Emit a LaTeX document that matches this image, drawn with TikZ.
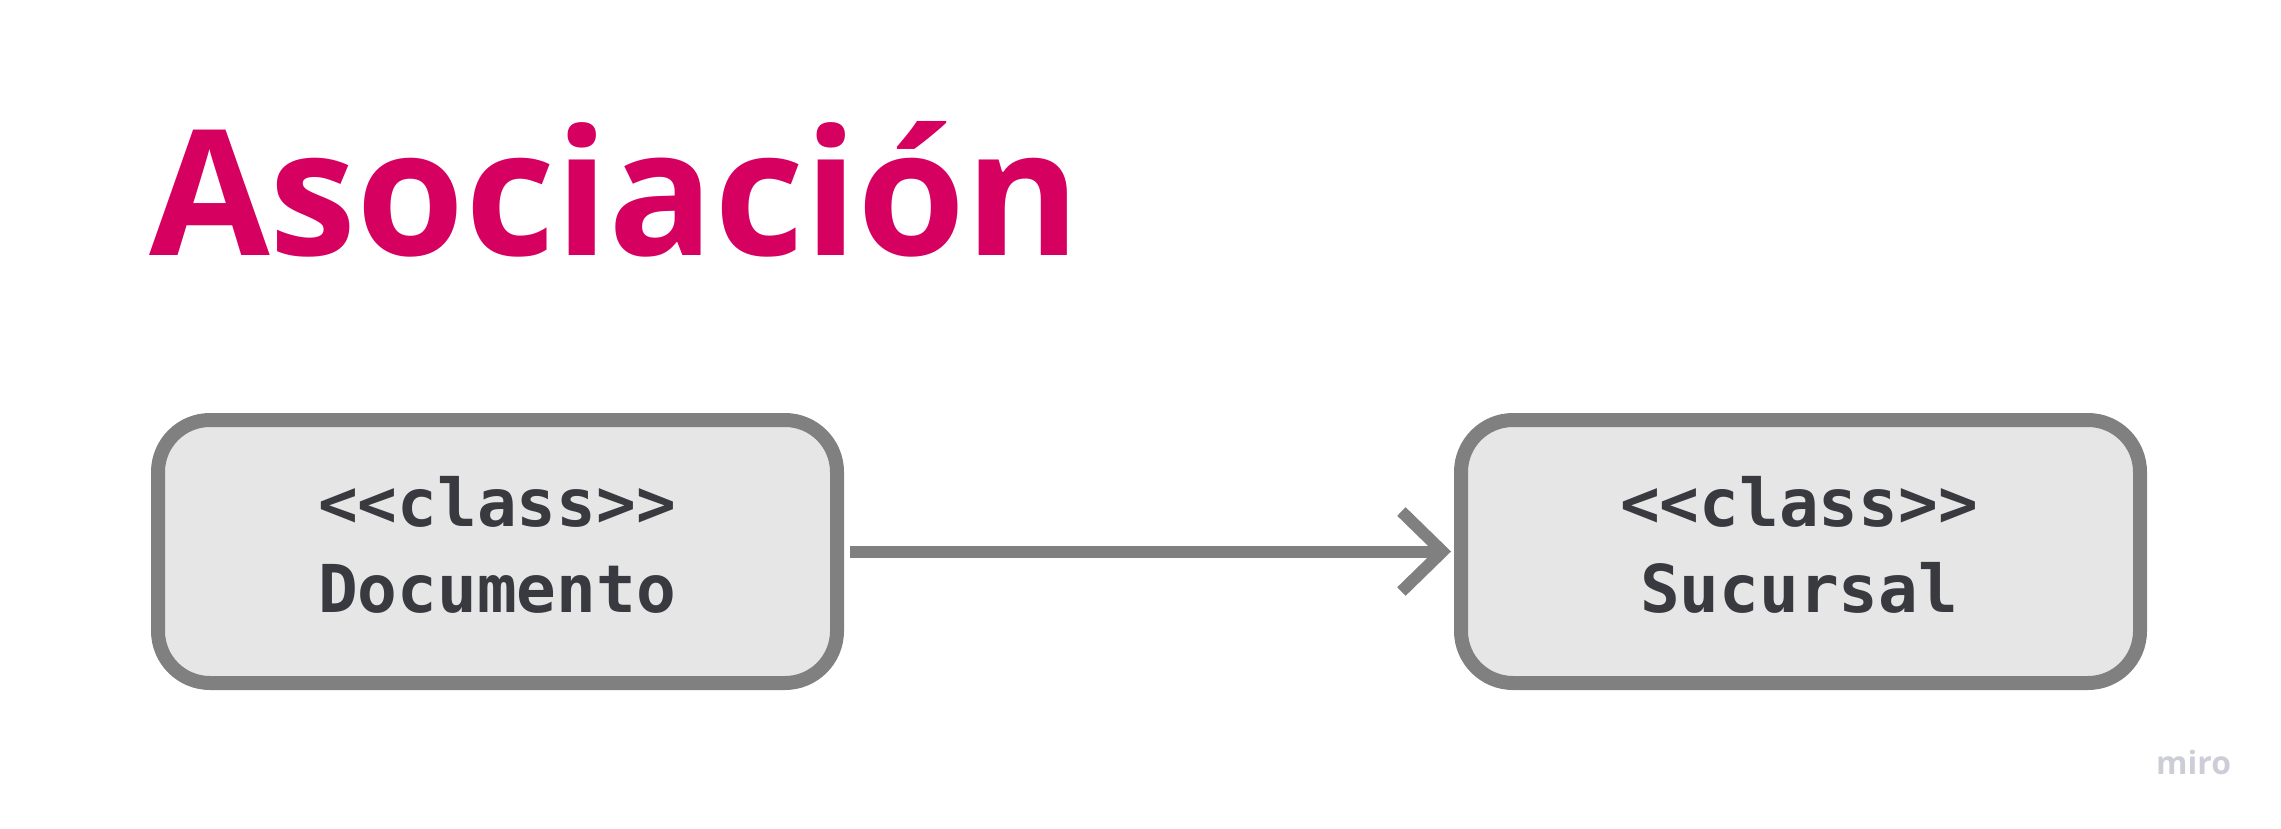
\documentclass[tikz,border=0pt]{standalone}
\usepackage{fontspec}
\setmainfont{Open Sans}
\newfontfamily\monobold{DejaVu Sans Mono}
\usetikzlibrary{arrows.meta}
\definecolor{titlemag}{RGB}{214,0,96}
\definecolor{boxgray}{RGB}{128,128,128}
\definecolor{boxfill}{RGB}{230,230,230}
\definecolor{txtdark}{RGB}{57,57,64}
\definecolor{logogray}{RGB}{205,205,216}
\tikzset{
  classbox/.style={draw=boxgray, fill=boxfill, line width=14pt, rounded corners=52pt,
    minimum width=679pt, minimum height=263pt, inner sep=0pt},
  classtxt/.style={text=txtdark, font=\monobold\bfseries\fontsize{66}{90}\selectfont, inner sep=0pt, anchor=base},
  assoc/.style={draw=boxgray, line width=12pt,
    -{Straight Barb[length=41pt, width=80pt]}, shorten <=6pt, shorten >=3pt},
}
\begin{document}
\begin{tikzpicture}[x=1pt,y=-1pt]
\useasboundingbox (0,0) rectangle (2281,828);
\node[anchor=base west, inner sep=0pt, text=titlemag,
  font=\bfseries\fontsize{175}{200}\selectfont] (title) at (149,255) {Asociación};
\node[classbox] (doc) at (497.5,551.5) {};
\node[classbox] (suc) at (1800.5,551.5) {};
\node[classtxt] (docst) at (497,526) {<<class>>};
\node[classtxt] (docname) at (497,612) {Documento};
\node[classtxt] (sucst) at (1799,526) {<<class>>};
\node[classtxt] (sucname) at (1799,612) {Sucursal};
\draw[assoc] (doc.east) -- (suc.west);
\node[anchor=base west, inner sep=0pt, text=logogray,
  font=\bfseries\fontsize{32}{40}\selectfont] (logo) at (2156,774) {miro};
\end{tikzpicture}
\end{document}
